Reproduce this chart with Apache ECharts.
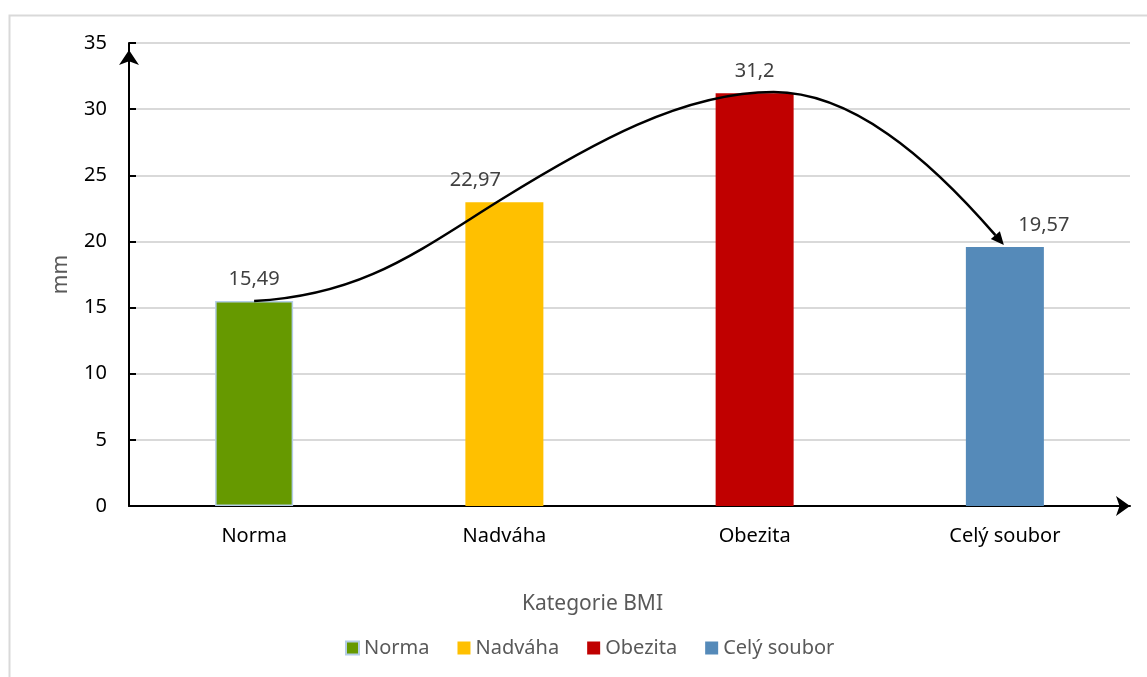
<!DOCTYPE html>
<html>
<head>
<meta charset="utf-8">
<script src="https://cdn.jsdelivr.net/npm/echarts@6/dist/echarts.min.js"></script>
<style>
  html, body { margin: 0; padding: 0; background: #fff; }
  #chart { width: 1147px; height: 677px; }
</style>
</head>
<body>
<div id="chart"></div>
<script>
// Categories and values
const categories = ['Norma', 'Nadváha', 'Obezita', 'Celý soubor'];
const values = [15.49, 22.97, 31.2, 19.57];
const colors = ['#669900', '#FFC000', '#C00000', '#558AB9'];
const yTicks = [0, 5, 10, 15, 20, 25, 30, 35];

// Trend arrow: cubic Bézier points (start, then control, control, end per segment),
// x in category positions, y in mm
const curveX = [0, 0.436, 0.656, 0.984, 1.348, 1.712, 2.076, 2.384, 2.688, 2.996];
const curveY = [15.49, 15.95, 19.28, 23.13, 27.39, 31.29, 31.29, 31.29, 26.46, 19.73];

const FONT = 'Noto Sans';
const labelOffsets = [[0, 0], [-29, 0], [0, 0], [39, 0]];

const chart = echarts.init(document.getElementById('chart'), null, { renderer: 'canvas' });

const barSeries = categories.map((name, i) => ({
  name: name,
  type: 'bar',
  xAxisIndex: 0,
  yAxisIndex: 0,
  barWidth: 78,
  barGap: '-100%',
  data: categories.map((c, j) => (j === i ? values[i] : '-')),
  itemStyle: i === 0
    ? { color: colors[i], borderColor: '#B4CDE6', borderWidth: 1.5 }
    : { color: colors[i] },
  label: {
    show: true,
    position: 'top',
    distance: 12,
    offset: labelOffsets[i],
    color: '#404040',
    fontFamily: FONT,
    fontSize: 20,
    formatter: p => String(p.value).replace('.', ',')
  },
  z: 2
}));

const arrowSeries = {
  type: 'custom',
  name: 'trend',
  xAxisIndex: 1,
  yAxisIndex: 0,
  silent: true,
  z: 5,
  data: [[0, 0]],
  renderItem: function (params, api) {
    const pts = curveX.map((x, k) => api.coord([x, curveY[k]]));
    const n = pts.length;
    const tip = pts[n - 1];
    const ctrl = pts[n - 2];
    const dx = tip[0] - ctrl[0], dy = tip[1] - ctrl[1];
    const len = Math.sqrt(dx * dx + dy * dy);
    const ux = dx / len, uy = dy / len;
    const headLen = 13, headW = 6;
    const base = [tip[0] - ux * headLen, tip[1] - uy * headLen];
    const linePts = pts.slice(0, n - 1).concat([base]);
    let d = 'M' + linePts[0][0] + ' ' + linePts[0][1];
    for (let i = 1; i + 2 < linePts.length + 0; i += 3) {
      d += ' C' + linePts[i].join(' ') + ' ' + linePts[i + 1].join(' ') + ' ' + linePts[i + 2].join(' ');
    }
    return {
      type: 'group',
      children: [
        {
          type: 'path',
          shape: { pathData: d },
          style: { stroke: '#000', lineWidth: 2.5, fill: null }
        },
        {
          type: 'polygon',
          shape: {
            points: [
              tip,
              [base[0] - uy * headW, base[1] + ux * headW],
              [base[0] + uy * headW, base[1] - ux * headW]
            ]
          },
          style: { fill: '#000' }
        }
      ]
    };
  }
};

const option = {
  animation: false,
  backgroundColor: '#fff',
  graphic: [{
    type: 'rect',
    left: 7, top: 13,
    shape: { width: 1200, height: 700 },
    style: { fill: null, stroke: '#D9D9D9', lineWidth: 2 },
    silent: true,
    z: -10
  }],
  grid: { left: 129, right: 17, top: 43, bottom: 171, containLabel: false },
  legend: {
    data: categories,
    bottom: 14,
    left: 340,
    itemWidth: 13,
    itemHeight: 13,
    itemGap: 28,
    icon: 'rect',
    textStyle: { color: '#595959', fontFamily: FONT, fontSize: 20 }
  },
  xAxis: [{
    type: 'category',
    data: categories,
    name: 'Kategorie BMI',
    nameLocation: 'middle',
    nameGap: 88,
    nameTextStyle: { color: '#595959', fontFamily: FONT, fontSize: 21, padding: [0, 74, 0, 0] },
    axisLine: { show: true, lineStyle: { color: '#000', width: 2 }, symbol: ['none', 'arrow'], symbolSize: [15, 14] },
    axisTick: { show: false },
    axisLabel: { color: '#000', fontFamily: FONT, fontSize: 20, margin: 20 },
    splitLine: { show: false }
  }, {
    type: 'value',
    min: -0.5,
    max: 3.5,
    show: false
  }],
  yAxis: {
    type: 'value',
    min: 0,
    max: 35,
    interval: 5,
    name: 'mm',
    nameLocation: 'middle',
    nameGap: 57,
    nameTextStyle: { color: '#595959', fontFamily: FONT, fontSize: 21 },
    axisLine: { show: true, onZero: false, lineStyle: { color: '#000', width: 2 }, symbol: ['none', 'arrow'], symbolSize: [15, 15], symbolOffset: [0, -7] },
    axisTick: { show: true, inside: true, length: 7, lineStyle: { color: '#000', width: 2 } },
    axisLabel: {
      color: '#000', fontFamily: FONT, fontSize: 20, margin: 22,
      formatter: v => (yTicks.indexOf(v) >= 0 ? String(v) : '')
    },
    splitLine: { show: true, lineStyle: { color: '#D9D9D9', width: 2 } }
  },
  series: barSeries.concat([arrowSeries])
};

chart.setOption(option);
</script>
</body>
</html>
